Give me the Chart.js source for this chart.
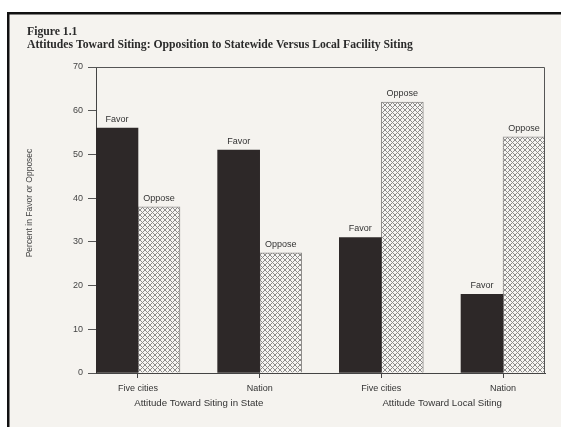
<!DOCTYPE html>
<html>
<head>
<meta charset="utf-8">
<script src="https://cdn.jsdelivr.net/npm/chart.js@4/dist/chart.umd.min.js"></script>
<style>
html,body{margin:0;padding:0;background:#ffffff;}
#wrap{width:561px;height:427px;position:relative;}
</style>
</head>
<body>
<div id="wrap"><canvas id="c" width="561" height="427"></canvas></div>
<script>
const categories = ["Five cities", "Nation", "Five cities", "Nation"];
const groupLabels = ["Attitude Toward Siting in State", "Attitude Toward Local Siting"];
const favorValues = [56, 51, 31, 18];
const opposeValues = [38, 27.5, 62, 54];
const seriesNames = ["Favor", "Oppose"];
const yTicks = [0, 10, 20, 30, 40, 50, 60, 70];
const titleLines = ["Figure 1.1", "Attitudes Toward Siting: Opposition to Statewide Versus Local Facility Siting"];
const yTitle = "Percent in Favor or Opposec";

function hatchPattern() {
  const n = 5;
  const p = document.createElement('canvas');
  p.width = n; p.height = n;
  const g = p.getContext('2d');
  g.fillStyle = '#f6f5f3';
  g.fillRect(0, 0, n, n);
  g.strokeStyle = '#8e8c8a';
  g.lineWidth = 1;
  g.beginPath();
  for (let k = -2; k <= 2; k++) {
    g.moveTo(k * n - 1, -1); g.lineTo(k * n + n + 1, n + 1);
    g.moveTo(k * n - 1, n + 1); g.lineTo(k * n + n + 1, -1);
  }
  g.stroke();
  return g.createPattern(p, 'repeat');
}

const ctx = document.getElementById('c').getContext('2d');

const framePlugin = {
  id: 'frame',
  beforeDraw(chart) {
    const c = chart.ctx;
    c.save();
    c.fillStyle = '#ffffff';
    c.fillRect(0, 0, chart.width, chart.height);
    c.fillStyle = '#f5f3ef';
    c.fillRect(8, 13, chart.width - 8, chart.height - 13);
    c.fillStyle = '#111111';
    c.fillRect(7, 12, chart.width - 7, 2.5);
    c.fillRect(7, 12, 2.5, chart.height - 12);
    c.restore();
  },
  afterDraw(chart) {
    const c = chart.ctx;
    const a = chart.chartArea;
    c.save();
    // title
    c.fillStyle = '#2a2a2a';
    c.font = 'bold 11.7px "Liberation Serif"';
    c.textBaseline = 'alphabetic';
    c.textAlign = 'left';
    c.fillText(titleLines[0], 27, 35);
    c.fillText(titleLines[1], 27, 47.5);
    // y axis title
    c.save();
    c.translate(30, 203);
    c.rotate(-Math.PI / 2);
    c.fillStyle = '#444444';
    c.font = '8.5px "Liberation Sans"';
    c.textAlign = 'center';
    c.textBaseline = 'middle';
    c.fillText(yTitle, 0, 0);
    c.restore();
    // top and right border of plot
    c.strokeStyle = '#555555';
    c.lineWidth = 1;
    c.beginPath();
    c.moveTo(a.left, a.top + 0.5);
    c.lineTo(a.right - 0.5, a.top + 0.5);
    c.lineTo(a.right - 0.5, a.bottom);
    c.stroke();
    // bar labels
    c.fillStyle = '#333333';
    c.font = '9px "Liberation Sans"';
    c.textAlign = 'center';
    c.textBaseline = 'bottom';
    chart.data.datasets.forEach((ds, di) => {
      const meta = chart.getDatasetMeta(di);
      meta.data.forEach(bar => {
        c.fillText(seriesNames[di], bar.x, bar.y - 4);
      });
    });
    c.restore();
  }
};

new Chart(ctx, {
  type: 'bar',
  data: {
    datasets: [
      {
        label: seriesNames[0],
        data: favorValues.map((v, i) => ({x: i, y: v})),
        backgroundColor: '#2d2828',
        borderColor: '#2d2828',
        borderWidth: 0
      },
      {
        label: seriesNames[1],
        data: opposeValues.map((v, i) => ({x: i, y: v})),
        backgroundColor: hatchPattern(),
        borderColor: '#8e8c8a',
        borderWidth: 1
      }
    ]
  },
  plugins: [framePlugin],
  options: {
    responsive: false,
    animation: false,
    devicePixelRatio: 1,
    layout: {padding: {left: 8, right: 16, top: 67, bottom: 14}},
    datasets: {bar: {barThickness: 42, grouped: true}},
    plugins: {
      legend: {display: false},
      title: {display: false},
      tooltip: {enabled: false}
    },
    scales: {
      x: {
        type: 'linear',
        position: 'bottom',
        offset: false,
        min: -0.345,
        max: 3.345,
        weight: 0,
        afterBuildTicks: s => { s.ticks = categories.map((_, i) => ({value: i})); },
        afterFit: s => { s.height = 22; },
        grid: {display: true, offset: false, drawOnChartArea: false, drawTicks: true, tickLength: 5, color: '#444444'},
        border: {display: true, color: '#444444', width: 1},
        ticks: {
          autoSkip: false,
          maxRotation: 0,
          padding: 5,
          color: '#333333',
          font: {family: 'Liberation Sans', size: 9},
          callback: v => categories[v]
        }
      },
      x2: {
        type: 'linear',
        position: 'bottom',
        offset: false,
        min: -0.345,
        max: 3.345,
        weight: 1,
        afterBuildTicks: s => { s.ticks = groupLabels.map((_, i) => ({value: i * 2 + 0.5})); },
        afterFit: s => { s.height = 18; },
        grid: {display: false, offset: false, drawTicks: false},
        border: {display: false},
        ticks: {
          autoSkip: false,
          maxRotation: 0,
          padding: 3,
          color: '#333333',
          font: {family: 'Liberation Sans', size: 9.7},
          callback: v => groupLabels[(v - 0.5) / 2]
        }
      },
      y: {
        min: 0,
        max: 70,
        afterBuildTicks: s => { s.ticks = yTicks.map(v => ({value: v})); },
        afterFit: s => { s.width = 88; },
        grid: {display: true, drawOnChartArea: false, drawTicks: true, tickLength: 8, color: '#555555'},
        border: {display: true, color: '#444444', width: 1},
        ticks: {
          padding: 5,
          color: '#444444',
          font: {family: 'Liberation Sans', size: 9}
        },
        title: {display: false}
      }
    }
  }
});
</script>
</body>
</html>
